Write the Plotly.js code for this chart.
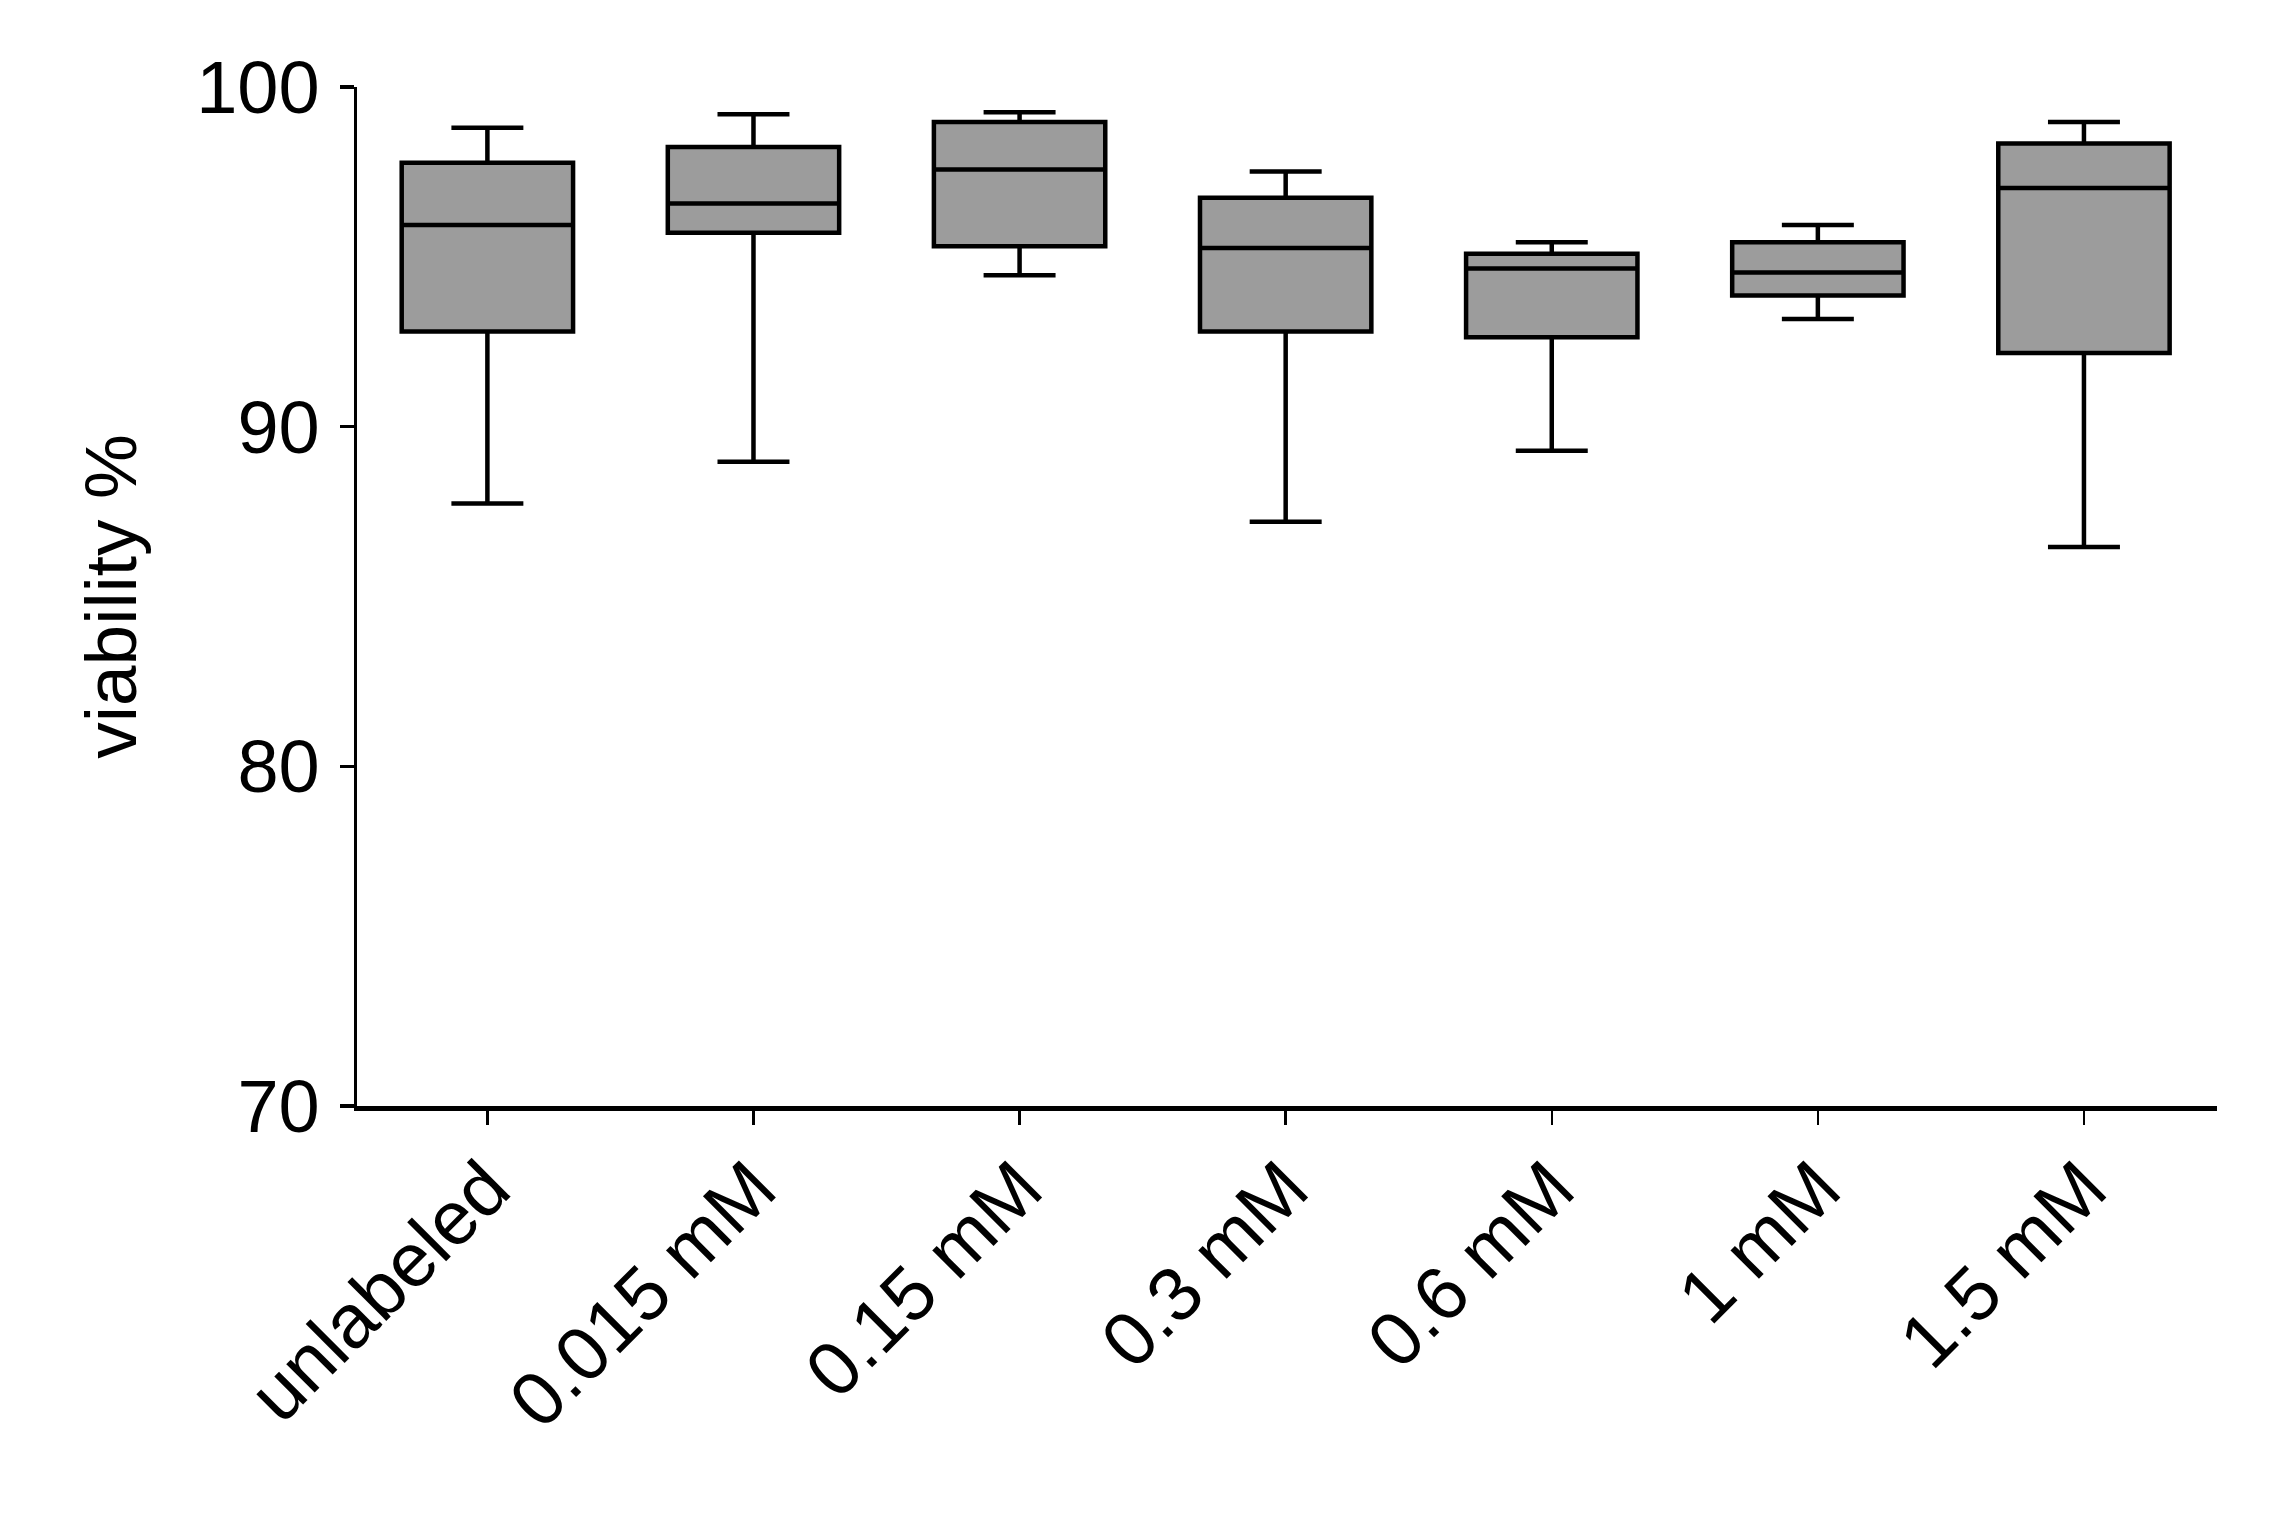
<!DOCTYPE html>
<html>
<head>
<meta charset="utf-8">
<script src="https://cdn.plot.ly/plotly-3.0.1.min.js"></script>
<style>html,body{margin:0;padding:0;background:#fff;}#chart{width:2275px;height:1522px;}</style>
</head>
<body>
<div id="chart"></div>
<script>
const categories = ["unlabeled", "0.015 mM", "0.15 mM", "0.3 mM", "0.6 mM", "1 mM", "1.5 mM"];
const lowerWhisker = [87.74, 88.97, 94.46, 87.20, 89.29, 93.17, 86.46];
const q1Values     = [92.80, 95.71, 95.31, 92.80, 92.63, 93.86, 92.17];
const medianValues = [95.94, 96.57, 97.57, 95.26, 94.66, 94.54, 97.03];
const q3Values     = [97.77, 98.23, 98.97, 96.74, 95.09, 95.43, 98.34];
const upperWhisker = [98.80, 99.20, 99.26, 97.51, 95.43, 95.94, 98.97];
const yTicks = [70, 80, 90, 100];

const trace = {
  type: 'box',
  x: categories,
  q1: q1Values,
  median: medianValues,
  q3: q3Values,
  lowerfence: lowerWhisker,
  upperfence: upperWhisker,
  width: 0.644,
  whiskerwidth: 0.42,
  fillcolor: '#9c9c9c',
  line: {color: '#000000', width: 4.5},
  boxpoints: false,
  hoverinfo: 'skip',
  showlegend: false
};

const layout = {
  width: 2275,
  height: 1522,
  paper_bgcolor: '#ffffff',
  plot_bgcolor: '#ffffff',
  margin: {l: 357, r: 58, t: 87, b: 416, pad: 0},
  font: {family: 'Liberation Sans, Arial, sans-serif', color: '#000000'},
  showlegend: false,
  hovermode: false,
  xaxis: {
    type: 'category',
    categoryorder: 'array',
    categoryarray: categories,
    range: [-0.49, 6.5],
    showgrid: false,
    zeroline: false,
    showline: true,
    linecolor: '#000000',
    linewidth: 5,
    ticks: 'outside',
    ticklen: 14,
    tickwidth: 2.5,
    tickcolor: '#000000',
    tickangle: -45,
    ticklabelstandoff: -12,
    tickfont: {size: 76, color: '#000000', family: 'Liberation Sans, Arial, sans-serif'}
  },
  yaxis: {
    range: [70, 100],
    tickvals: yTicks,
    ticktext: yTicks.map(String),
    showgrid: false,
    zeroline: false,
    showline: true,
    linecolor: '#000000',
    linewidth: 3.5,
    ticks: 'outside',
    ticklen: 14,
    tickwidth: 3.5,
    tickcolor: '#000000',
    ticklabelstandoff: 5,
    tickfont: {size: 74, color: '#000000', family: 'Liberation Sans, Arial, sans-serif'},
    title: {text: 'viability %', font: {size: 73, color: '#000000', family: 'Liberation Sans, Arial, sans-serif'}, standoff: 36}
  }
};

Plotly.newPlot('chart', [trace], layout, {staticPlot: true, displayModeBar: false});
</script>
</body>
</html>
